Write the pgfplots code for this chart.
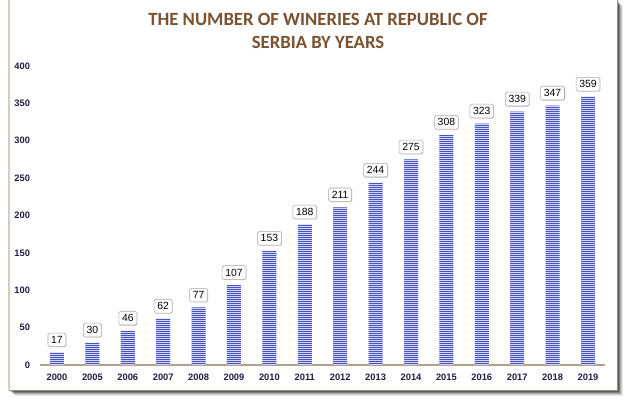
\documentclass[border=0pt]{standalone}
\usepackage{pgfplots}
\pgfplotsset{compat=1.18}
\usepackage{fontspec}
\setmainfont{Liberation Sans}
\newfontfamily\titlefont{Carlito}
\usetikzlibrary{patterns,shadows}
\pgfdeclarepatternformonly{hstripes}{\pgfpoint{0pt}{0pt}}{\pgfpoint{30pt}{1.7pt}}{\pgfpoint{30pt}{1.7pt}}{%
  \pgfpathrectangle{\pgfpoint{-2pt}{0pt}}{\pgfpoint{34pt}{0.85pt}}\pgfusepath{fill}}
\definecolor{titlebrown}{RGB}{122,82,48}
\definecolor{barlight}{RGB}{210,213,244}
\definecolor{bardark}{RGB}{72,82,192}
\definecolor{axistan}{RGB}{176,160,144}
\definecolor{ticknavy}{RGB}{30,30,70}
\definecolor{framecol}{RGB}{214,204,196}
\begin{document}
\begin{tikzpicture}[x=0.75pt,y=0.75pt]
\useasboundingbox (0,0) rectangle (626,400);
% shadow
\foreach \o/\op in {6/0.08,5/0.12,4/0.18,3/0.25,2/0.3}{
  \fill[black,opacity=\op] (9+\o,10-\o) rectangle (617+\o,400-\o);
}
\fill[white] (9,10) rectangle (617,402);
\draw[framecol,line width=0.8pt] (9,10) -- (9,402);
\draw[framecol!70!black,line width=0.6pt] (9,10) -- (617,10) -- (617,402);
\node[font=\titlefont\fontsize{14}{15}\selectfont\bfseries,text=titlebrown] at (318,381) {THE NUMBER OF WINERIES AT REPUBLIC OF};
\node[font=\titlefont\fontsize{14}{15}\selectfont\bfseries,text=titlebrown] at (318,358) {SERBIA BY YEARS};
\begin{axis}[
  at={(30pt,26.25pt)}, anchor=south west,
  scale only axis, width=423.75pt, height=224.25pt,
  xmin=-0.48, xmax=15.48, ymin=0, ymax=400,
  ytick={0,50,...,400},
  xtick={0,...,15},
  xticklabels={2000,2005,2006,2007,2008,2009,2010,2011,2012,2013,2014,2015,2016,2017,2018,2019},
  axis lines*=left,
  y axis line style={draw=none},
  x axis line style={draw=axistan,line width=1.2pt,-},
  major tick length=0pt,
  ticklabel style={font=\fontsize{7}{8}\selectfont\bfseries,text=ticknavy},
  xticklabel style={yshift=-3pt},
  yticklabel style={xshift=-4pt},
  /pgf/number format/assume math mode=true,
  clip=false,
]
\addplot[ybar, bar width=10.5pt, bar shift=0pt, draw=none, fill=barlight,
  postaction={pattern color=bardark, pattern=hstripes}]
  coordinates {(0,17)(1,30)(2,46)(3,62)(4,77)(5,107)(6,153)(7,188)(8,211)(9,244)(10,275)(11,308)(12,323)(13,339)(14,347)(15,359)};
\addplot[ybar, bar width=10.5pt, bar shift=0pt, draw=none, fill=none,
  nodes near coords,
  every node near coord/.append style={font=\fontsize{7.8}{8}\selectfont, text=black, fill=white, draw=black!35, rounded corners=1.2pt, inner sep=2.4pt, anchor=south, yshift=4pt, drop shadow={opacity=0.25,shadow xshift=0.6pt,shadow yshift=-0.6pt}}]
  coordinates {(0,17)(1,30)(2,46)(3,62)(4,77)(5,107)(6,153)(7,188)(8,211)(9,244)(10,275)(11,308)(12,323)(13,339)(14,347)(15,359)};
\end{axis}
\end{tikzpicture}
\end{document}
